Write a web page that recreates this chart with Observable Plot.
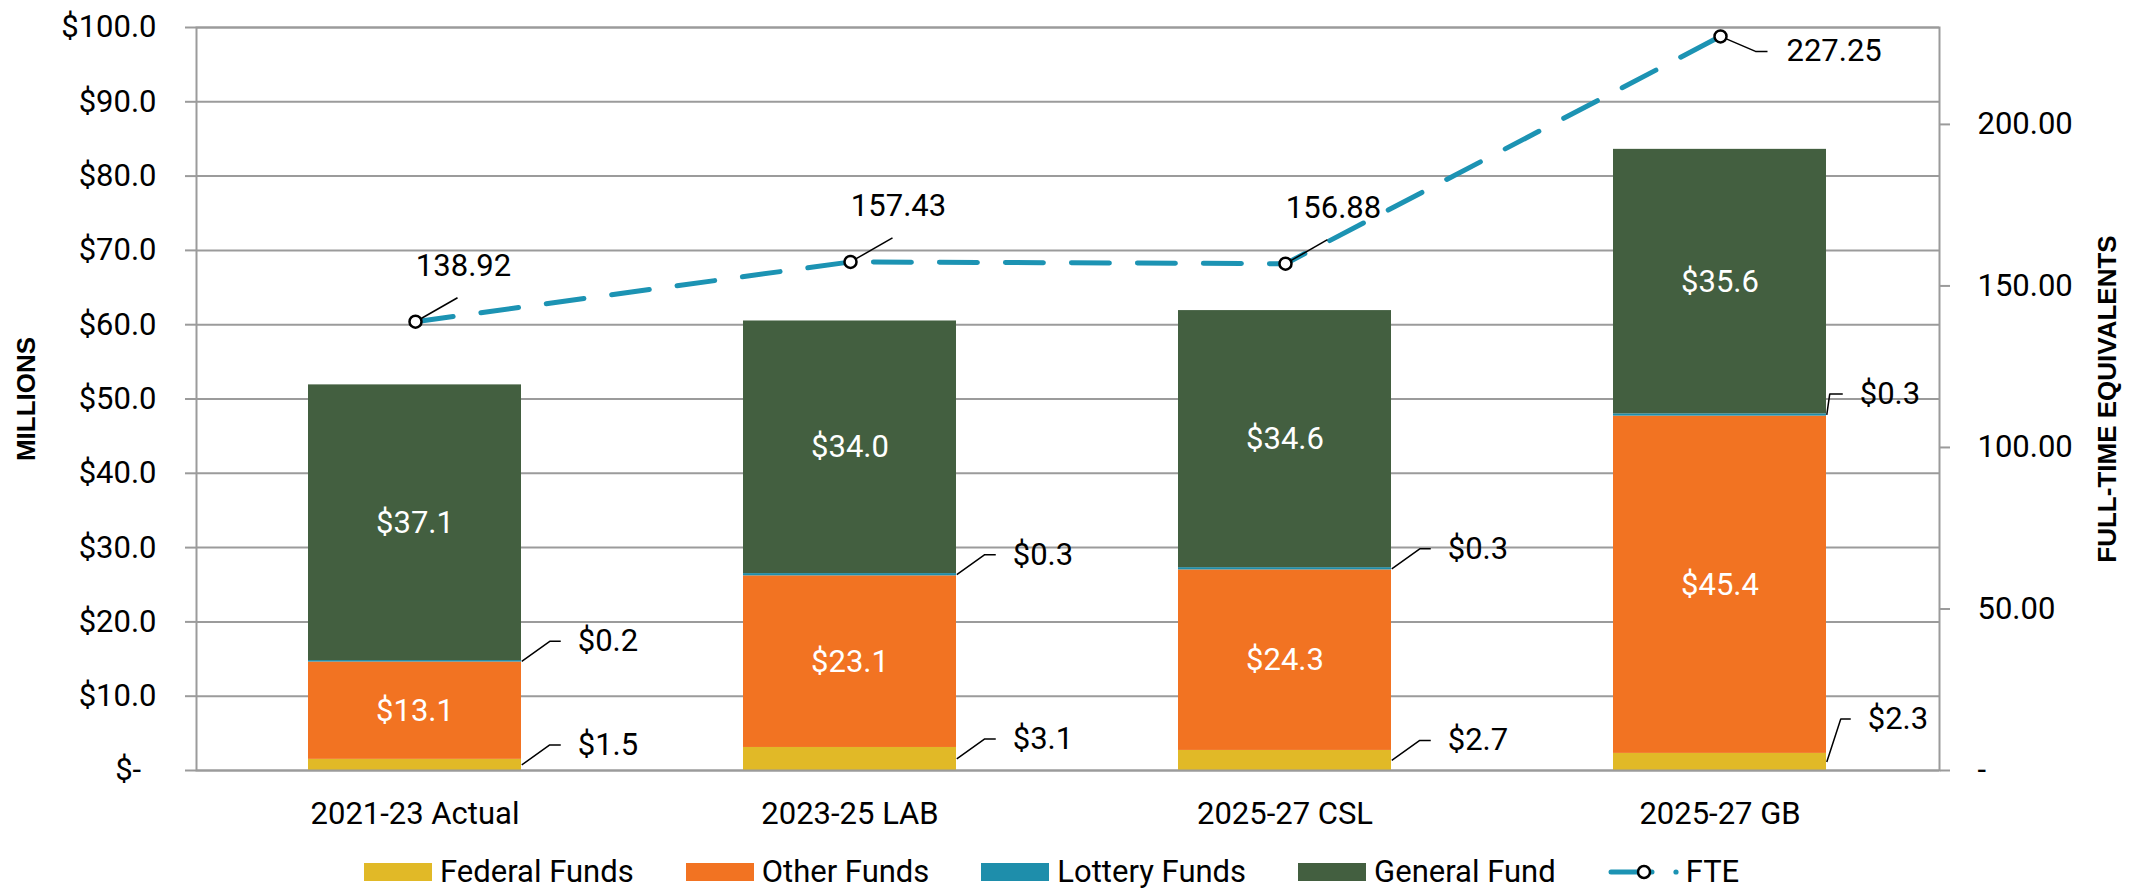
<!DOCTYPE html>
<html><head><meta charset="utf-8">
<script src="https://cdn.jsdelivr.net/npm/d3@7"></script>
<script src="https://cdn.jsdelivr.net/npm/@observablehq/plot@0.6"></script>
<style>
html,body{margin:0;padding:0;background:#fff;overflow:hidden;}
#wrap{position:relative;width:2137px;height:840px;}
#wrap svg{position:absolute;left:0;top:0;}
svg text{white-space:pre;}
#legend{display:flex;align-items:center;height:34px;line-height:34px;padding-top:15px;padding-left:364px;font-family:Roboto,sans-serif;font-size:31px;color:#000;box-sizing:content-box;}
.item{display:flex;align-items:center;margin-right:52px;white-space:nowrap;height:34px;}
.sw{width:68px;height:18px;margin-right:8px;}
</style></head>
<body>
<div id="wrap"></div>
<div id="legend"></div>
<script>
// ---- data ----
const categories = ["2021-23 Actual", "2023-25 LAB", "2025-27 CSL", "2025-27 GB"];
const federalFunds = [1.5, 3.1, 2.7, 2.3];
const otherFunds = [13.1, 23.1, 24.3, 45.4];
const lotteryFunds = [0.2, 0.3, 0.3, 0.3];
const generalFund = [37.1, 34.0, 34.6, 35.6];
const fte = [138.92, 157.43, 156.88, 227.25];
const fundNames = ["Federal Funds", "Other Funds", "Lottery Funds", "General Fund"];
const fundColors = ["#E1B927", "#F27322", "#1E8EAB", "#435F40"];
const insideFunds = ["Other Funds", "General Fund"];
const moneyTicks = [0, 10, 20, 30, 40, 50, 60, 70, 80, 90, 100];
const fteTicks = [0, 50, 100, 150, 200];
const fteColor = "#1C93B3";

// ---- layout ----
const W = 2137, H = 840;
const M = {top: 27, right: 198, bottom: 70, left: 196};
const xOpts = {domain: categories, paddingInner: 0.51, paddingOuter: 0.255};
const halfBar = Plot.scale({x: {type: "band", ...xOpts, range: [M.left, W - M.right]}}).bandwidth / 2;

const fundSeries = [federalFunds, otherFunds, lotteryFunds, generalFund];
const rows = [];
categories.forEach((cat, i) => {
  let base = 0;
  fundSeries.forEach((s, k) => {
    const v = s[i];
    rows.push({cat, fund: fundNames[k], value: v, y1: base, y2: base + v, mid: base + v / 2});
    base += v;
  });
});
const lastCat = categories[categories.length - 1];
const inside = rows.filter(d => insideFunds.includes(d.fund));
const callouts = rows.filter(d => !insideFunds.includes(d.fund) && d.cat !== lastCat);
const edgeLottery = rows.filter(d => d.fund === "Lottery Funds" && d.cat === lastCat);
const edgeFederal = rows.filter(d => d.fund === "Federal Funds" && d.cat === lastCat);
const fteRows = categories.map((cat, i) => ({cat, fte: fte[i]}));
const peak = d3.max(fte);
const fteUpper = fteRows.filter(d => d.fte !== peak);
const ftePeak = fteRows.filter(d => d.fte === peak);
const money = v => "$" + v.toFixed(1);

// elbow leader line as a custom curve
const elbow = (kx, ky, h) => (ctx) => {
  let p = null;
  return {
    areaStart() {}, areaEnd() {},
    lineStart() { p = null; },
    point(x, y) { if (!p) p = [x, y]; },
    lineEnd() {
      const [x, y] = p;
      ctx.moveTo(x, y);
      ctx.lineTo(x + kx, y + ky);
      if (h) ctx.lineTo(x + kx + h, y + ky);
    }
  };
};

function callout(data, kx, ky, h) {
  return [
    Plot.link(data, {x1: "cat", x2: "cat", y1: "mid", y2: "mid", dx: halfBar, curve: elbow(kx, ky, h), stroke: "black", strokeWidth: 1.5}),
    Plot.text(data, {x: "cat", y: "mid", dx: halfBar + kx + h + 17, dy: ky, text: d => money(d.value), textAnchor: "start", fill: "black", fontSize: 31})
  ];
}

const common = {
  width: W, height: H,
  marginTop: M.top, marginRight: M.right, marginBottom: M.bottom, marginLeft: M.left,
};

const chart1 = Plot.plot({
  ...common,
  style: {fontFamily: "Roboto, sans-serif", fontSize: "31px", color: "#000", background: "white", overflow: "visible"},
  x: {...xOpts},
  y: {domain: [0, 100]},
  color: {domain: fundNames, range: fundColors},
  marks: [
    Plot.ruleY(moneyTicks, {stroke: "#9b9b9b", strokeWidth: 2}),
    Plot.barY(rows, {x: "cat", y1: "y1", y2: "y2", fill: "fund", inset: 0}),
    Plot.frame({stroke: "#9b9b9b", strokeWidth: 2}),
    Plot.text(inside, {x: "cat", y: "mid", text: d => money(d.value), fill: "white", fontSize: 31}),
    ...callout(callouts, 28, -20, 11),
    ...callout(edgeLottery, 3, -21, 13),
    ...callout(edgeFederal, 14, -43, 10),
    Plot.axisY(moneyTicks, {anchor: "left", tickSize: 11, tickPadding: 29, tickFormat: d => d === 0 ? "$-  " : money(d), stroke: "#9b9b9b", strokeWidth: 2, fill: "black", label: null}),
    Plot.axisX({tickSize: 0, tickPadding: 31, fill: "black", label: null}),
    Plot.text(["MILLIONS"], {text: d => d, frameAnchor: "left", textAnchor: "middle", dx: -170, rotate: -90, fontFamily: "Liberation Sans, Arial, sans-serif", fontWeight: "bold", fontSize: 26, fill: "black"})
  ]
});

const chart2 = Plot.plot({
  ...common,
  style: {fontFamily: "Roboto, sans-serif", fontSize: "31px", color: "#000", background: "transparent", overflow: "visible"},
  x: {...xOpts, axis: null},
  y: {domain: [0, 230]},
  marks: [
    Plot.line(fteRows, {x: "cat", y: "fte", stroke: fteColor, strokeWidth: 5, strokeDasharray: "38,28", strokeLinecap: "round"}),
    Plot.link(fteUpper, {x1: "cat", x2: "cat", y1: "fte", y2: "fte", curve: elbow(42, -24, 0), stroke: "black", strokeWidth: 1.5}),
    Plot.link(ftePeak, {x1: "cat", x2: "cat", y1: "fte", y2: "fte", curve: elbow(35, 15, 12), stroke: "black", strokeWidth: 1.5}),
    Plot.dot(fteRows, {x: "cat", y: "fte", r: 6, fill: "white", stroke: "black", strokeWidth: 2.5}),
    Plot.text(fteUpper, {x: "cat", y: "fte", dx: 48, dy: -56, text: d => d.fte.toFixed(2), fill: "black", fontSize: 31}),
    Plot.text(ftePeak, {x: "cat", y: "fte", dx: 66, dy: 15, text: d => d.fte.toFixed(2), textAnchor: "start", fill: "black", fontSize: 31}),
    Plot.axisY(fteTicks, {anchor: "right", tickSize: 10, tickPadding: 28, tickFormat: d => d === 0 ? "-" : d.toFixed(2), stroke: "#9b9b9b", strokeWidth: 2, fill: "black", label: null}),
    Plot.text(["FULL-TIME EQUIVALENTS"], {text: d => d, frameAnchor: "right", textAnchor: "middle", dx: 168, rotate: -90, fontFamily: "Liberation Sans, Arial, sans-serif", fontWeight: "bold", fontSize: 26, fill: "black"})
  ]
});

const wrap = document.getElementById("wrap");
wrap.appendChild(chart1);
wrap.appendChild(chart2);

// ---- legend ----
const legend = document.getElementById("legend");
fundNames.forEach((name, k) => {
  const it = document.createElement("div");
  it.className = "item";
  it.innerHTML = `<div class="sw" style="background:${fundColors[k]}"></div><span>${name}</span>`;
  legend.appendChild(it);
});
const fteItem = document.createElement("div");
fteItem.className = "item";
fteItem.innerHTML = `<svg width="78" height="30"><line x1="3" y1="15" x2="44" y2="15" stroke="${fteColor}" stroke-width="5" stroke-linecap="round"/><circle cx="36" cy="15" r="6" fill="white" stroke="black" stroke-width="2.5"/><circle cx="68" cy="15" r="2.6" fill="${fteColor}"/></svg><span>FTE</span>`;
legend.appendChild(fteItem);
</script>
</body></html>
